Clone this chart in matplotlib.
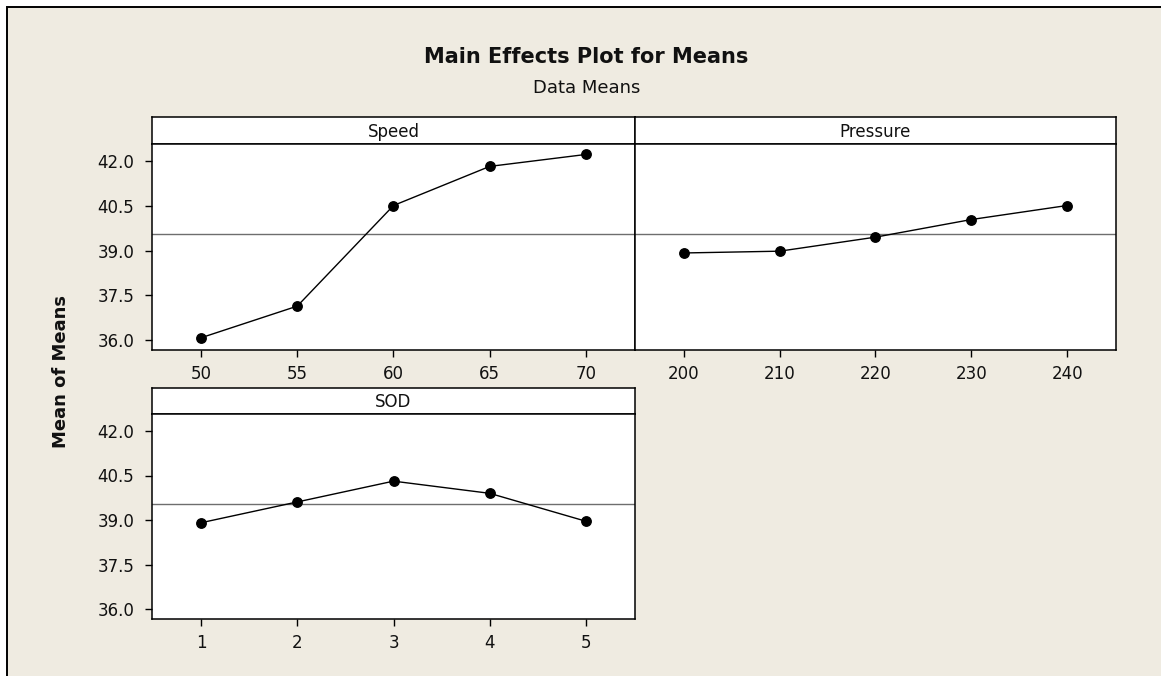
import matplotlib

matplotlib.use("Agg")
import matplotlib.pyplot as plt
from matplotlib.patches import Rectangle


FIG_W_PX = 1161
FIG_H_PX = 676
DPI = 100

PANEL_BG = "#EFEBE1"
REF_LINE = "#6E6E6E"

SPEED_LEVELS = [50, 55, 60, 65, 70]
SPEED_MEANS = [36.08, 37.14, 40.51, 41.82, 42.22]

PRESSURE_LEVELS = [200, 210, 220, 230, 240]
PRESSURE_MEANS = [38.92, 38.98, 39.45, 40.04, 40.51]

SOD_LEVELS = [1, 2, 3, 4, 5]
SOD_MEANS = [38.91, 39.61, 40.31, 39.90, 38.96]

GRAND_MEAN = 39.55
Y_TICKS = [36.0, 37.5, 39.0, 40.5, 42.0]


def px_rect(left, top, right, bottom):
    # pixel box (from top-left) -> figure fraction [x, y, w, h]
    return [left / FIG_W_PX, 1 - bottom / FIG_H_PX, (right - left) / FIG_W_PX, (bottom - top) / FIG_H_PX]


def configure_matplotlib() -> None:
    plt.rcParams.update(
        {
            "font.family": ["DejaVu Sans"],
            "axes.unicode_minus": False,
        }
    )


def draw_panel(fig, plot_box, strip_box, name, levels, means, show_yticks):
    strip = fig.add_axes(px_rect(*strip_box))
    strip.set_facecolor("white")
    strip.set_xticks([])
    strip.set_yticks([])
    for spine in strip.spines.values():
        spine.set_linewidth(1.1)
        spine.set_color("black")
    strip.text(0.5, 0.45, name, ha="center", va="center", fontsize=12, color="#111111",
               transform=strip.transAxes)

    ax = fig.add_axes(px_rect(*plot_box))
    ax.set_facecolor("white")
    ax.axhline(GRAND_MEAN, color=REF_LINE, linewidth=1.0, zorder=1)
    ax.plot(levels, means, color="black", linewidth=1.0, marker="o", markersize=6.8, zorder=3)

    span = levels[-1] - levels[0]
    margin = span * 0.1275
    ax.set_xlim(levels[0] - margin, levels[-1] + margin)
    ax.set_ylim(35.67, 42.57)
    ax.set_xticks(levels)
    ax.set_xticklabels([str(v) for v in levels])
    ax.set_yticks(Y_TICKS)
    ax.set_yticklabels([f"{v:.1f}" for v in Y_TICKS])
    for spine in ax.spines.values():
        spine.set_linewidth(1.1)
        spine.set_color("black")
    ax.tick_params(axis="x", direction="out", length=4.7, width=1.0, pad=6,
                   labelsize=12, colors="black", labelcolor="#111111")
    if show_yticks:
        ax.tick_params(axis="y", direction="out", length=4.7, width=1.0, pad=8,
                       labelsize=12, colors="black", labelcolor="#111111")
    else:
        ax.tick_params(axis="y", left=False, labelleft=False)
    return ax


def draw_figure() -> None:
    configure_matplotlib()
    fig = plt.figure(figsize=(FIG_W_PX / DPI, FIG_H_PX / DPI), dpi=DPI)
    fig.patch.set_facecolor("white")

    # outer graph window (cropped on right and bottom)
    frame = Rectangle((7 / FIG_W_PX, -0.05), 1.05, 1 - 7 / FIG_H_PX + 0.05,
                      transform=fig.transFigure, facecolor=PANEL_BG, edgecolor="black",
                      linewidth=1.4, zorder=-1)
    fig.patches.append(frame)

    fig.text(586 / FIG_W_PX, 1 - 57 / FIG_H_PX, "Main Effects Plot for Means", ha="center", va="center",
             fontsize=15, fontweight="bold", color="#111111")
    fig.text(587 / FIG_W_PX, 1 - 88 / FIG_H_PX, "Data Means", ha="center", va="center",
             fontsize=13, color="#111111")

    draw_panel(fig, (152, 144, 635, 350), (152, 117, 635, 144), "Speed", SPEED_LEVELS, SPEED_MEANS, True)
    draw_panel(fig, (635, 144, 1116, 350), (635, 117, 1116, 144), "Pressure", PRESSURE_LEVELS, PRESSURE_MEANS, False)
    draw_panel(fig, (152, 414, 635, 619), (152, 388, 635, 414), "SOD", SOD_LEVELS, SOD_MEANS, True)

    fig.text(61 / FIG_W_PX, 1 - 371 / FIG_H_PX, "Mean of Means", ha="center", va="center", rotation=90,
             fontsize=13, fontweight="bold", color="#111111")

    fig.savefig("out.png", dpi=DPI, facecolor="white")
    plt.close(fig)


if __name__ == "__main__":
    draw_figure()
